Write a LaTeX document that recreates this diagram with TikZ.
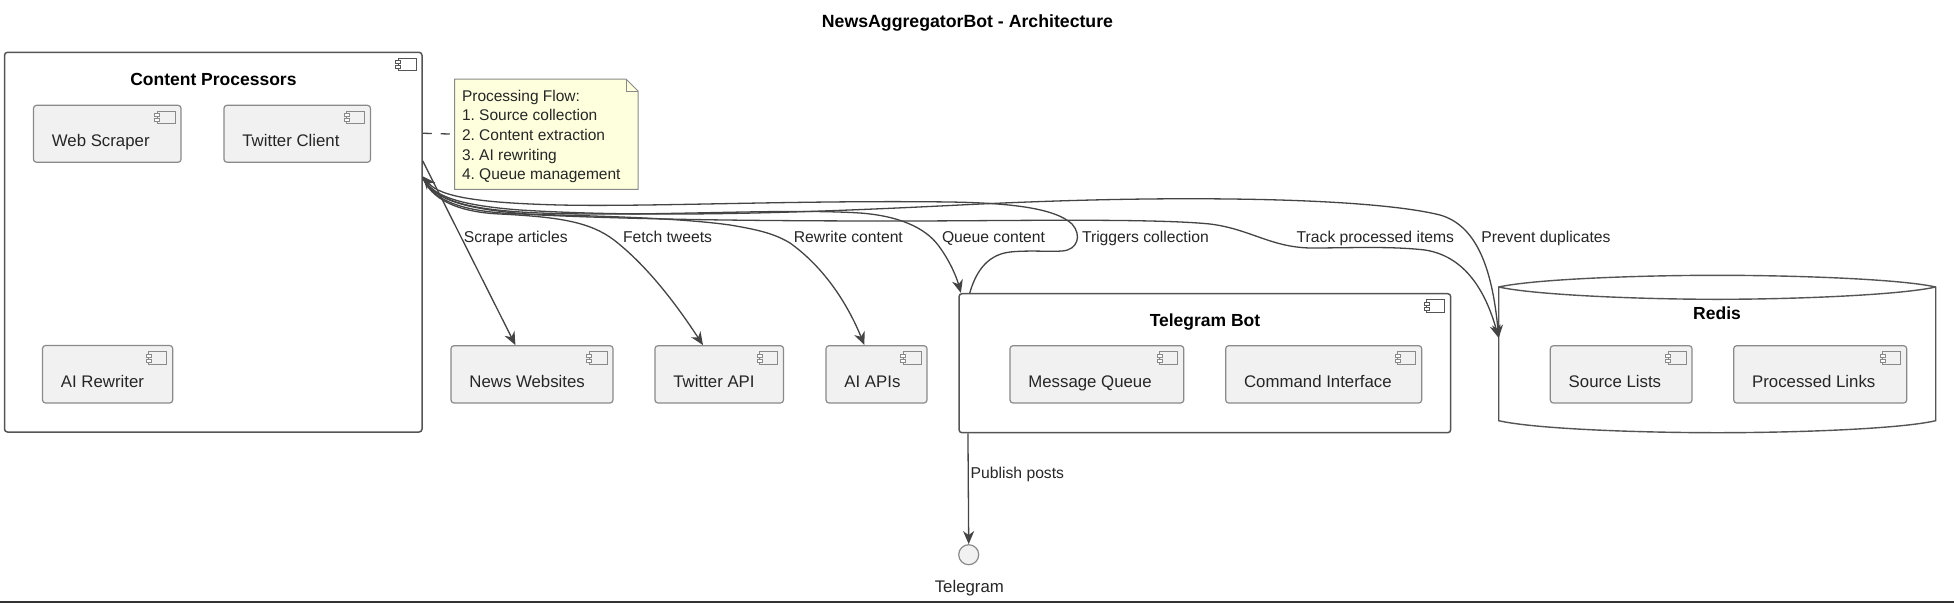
\documentclass[tikz,border=0pt]{standalone}
\usepackage{fontspec}
\setmainfont{Liberation Sans}
\usetikzlibrary{arrows.meta,calc}
\definecolor{boxline}{HTML}{555555}
\definecolor{smallline}{HTML}{8A8A8A}
\definecolor{compfill}{HTML}{F1F1F1}
\definecolor{notefill}{HTML}{FEFFDD}
\definecolor{edgeline}{HTML}{444444}
\tikzset{
  bigbox/.style={draw=boxline,line width=1.5pt,rounded corners=3pt,inner sep=0pt,fill=white},
  smallbox/.style={draw=smallline,line width=1.2pt,rounded corners=3pt,inner sep=0pt,fill=compfill},
  plain/.style={inner sep=0pt,outer sep=0pt},
  comptext/.style={plain,anchor=base west,font=\fontsize{16.8}{20}\selectfont,text=black!85},
  grouptitle/.style={plain,anchor=base,font=\fontsize{17.5}{20}\selectfont\bfseries},
  edgetext/.style={plain,anchor=base west,font=\fontsize{15.7}{19}\selectfont,text=black!85},
  edge/.style={draw=edgeline,line width=1.3pt},
  tip/.style={-{Stealth[length=13pt,width=11pt,inset=4pt]}},
  icon/.style={draw=#1,line width=0.9pt,fill=none},
}
\newcommand{\iconat}[3]{% right edge, top edge, colour
  \draw[icon=#3] (#1-24,#2+6) rectangle (#1-5.8,#2+18.5);
  \draw[icon=#3,fill=white] (#1-26.5,#2+8.5) rectangle (#1-21.5,#2+11.5);
  \draw[icon=#3,fill=white] (#1-26.5,#2+13.5) rectangle (#1-21.5,#2+16.5);
}
\newcommand{\smallcomp}[6]{% name x1 y1 x2 y2 text
  \pgfmathsetmacro{\bw}{#4-#2}\pgfmathsetmacro{\bh}{#5-#3}
  \node[smallbox,minimum width=\bw pt,minimum height=\bh pt] (#1) at ({(#2+#4)/2},{(#3+#5)/2}) {};
  \node[comptext] (#1-text) at ([xshift=19pt,yshift=-42.1pt]#1.north west) {#6};
  \iconat{#4}{#3}{smallline}
}
\newcommand{\bigcomp}[5]{% name x1 y1 x2 y2
  \pgfmathsetmacro{\bw}{#4-#2}\pgfmathsetmacro{\bh}{#5-#3}
  \node[bigbox,minimum width=\bw pt,minimum height=\bh pt] (#1) at ({(#2+#4)/2},{(#3+#5)/2}) {};
  \iconat{#4}{#3}{boxline}
}
\begin{document}
\frenchspacing
\begin{tikzpicture}[x=1pt,y=-1pt]
\useasboundingbox (0,0) rectangle (1954,603);
\fill[white] (0,0) rectangle (1954,603);
\draw[black!80,line width=1.6pt] (0,602.2) -- (1954,602.2);

\node[plain,anchor=base,font=\fontsize{17.7}{21}\selectfont\bfseries] (title) at (967.5,27.5) {NewsAggregatorBot - Architecture};

% Content Processors
\bigcomp{cp}{4.5}{52.3}{422}{432}
\node[grouptitle] (cptitle) at (213.4,85.8) {Content Processors};
\smallcomp{ws}{33.5}{105.3}{181}{162.3}{Web Scraper}
\smallcomp{tc}{224}{105.3}{370.5}{162.3}{Twitter Client}
\smallcomp{ar}{42.5}{345.5}{172.7}{403}{AI Rewriter}

% Note
\fill[notefill] (454.5,79) -- (626,79) -- (638,91) -- (638,189.3) -- (454.5,189.3) -- cycle;
\draw[smallline,line width=1pt] (454.5,79) -- (626,79) -- (638,91) -- (638,189.3) -- (454.5,189.3) -- cycle;
\draw[smallline,line width=1pt] (626,79) -- (626,91) -- (638,91);
\node[plain,minimum width=183.5pt,minimum height=110.3pt] (note) at (546.25,134.15) {};
\node[plain,anchor=north west,align=left,font=\fontsize{15.5}{19.6}\selectfont,text=black!85] (notetext) at (462,90)
  {Processing Flow:\\1. Source collection\\2. Content extraction\\3. AI rewriting\\4. Queue management};
\draw[edge,dash pattern=on 9pt off 9pt] ([yshift=-81.7pt]cp.north east) -- (note.west);

% External components
\smallcomp{nw}{451}{345.7}{613}{403}{News Websites}
\smallcomp{ta}{655}{345.7}{783.5}{403}{Twitter API}
\smallcomp{ai}{826}{345.7}{927}{403}{AI APIs}

% Telegram Bot
\bigcomp{tb}{959}{293.7}{1450.7}{432.7}
\node[grouptitle] (tbtitle) at (1205,326.5) {Telegram Bot};
\smallcomp{mq}{1010}{345.7}{1183.7}{403}{Message Queue}
\smallcomp{ci}{1225.7}{345.7}{1421.7}{403}{Command Interface}

% Redis
\node[plain,minimum width=437pt,minimum height=157.4pt] (redis) at (1717.2,354) {};
\draw[boxline,line width=1.4pt,fill=white]
  (1498.7,287) -- (1498.7,420.7) .. controls (1535,429) and (1640,432.7) .. (1717.2,432.7)
  .. controls (1795,432.7) and (1900,429) .. (1935.7,420.7) -- (1935.7,287)
  .. controls (1900,279) and (1795,275.3) .. (1717.2,275.3)
  .. controls (1640,275.3) and (1535,279) .. (1498.7,287) -- cycle;
\draw[boxline,line width=1.4pt]
  (1498.7,287) .. controls (1535,295) and (1640,299.3) .. (1717.2,299.3)
  .. controls (1795,299.3) and (1900,295) .. (1935.7,287);
\node[grouptitle] (rtitle) at (1717,319.3) {Redis};
\smallcomp{sl}{1550.3}{345.7}{1692}{403}{Source Lists}
\smallcomp{pl}{1733.7}{345.7}{1906.7}{403}{Processed Links}

% Telegram interface
\node[circle,draw=smallline,fill=compfill,line width=1.2pt,minimum size=20pt,inner sep=0pt] (tg) at (968.7,554.7) {};
\node[plain,anchor=base,font=\fontsize{16.8}{20}\selectfont,text=black!85] (tglabel) at (969.3,592) {Telegram};

% Connectors
\draw[edge,tip] ([yshift=-109.4pt]cp.north east) -- ([xshift=65pt]nw.north west);
\draw[edge,tip] ([yshift=-126pt]cp.north east)
  .. controls (431,198) and (455,212) .. (500,214)
  .. controls (560,217) and (590,222) .. (614,240)
  .. controls (650,268) and (680,310) .. ([xshift=48.6pt]ta.north west);
\draw[edge,tip] ([yshift=-126pt]cp.north east)
  .. controls (433,200) and (460,212) .. (520,214)
  .. controls (600,216) and (680,218) .. (730,225)
  .. controls (760,230) and (775,234) .. (790,243)
  .. controls (825,268) and (848,305) .. ([xshift=39pt]ai.north west);
\draw[edge,tip] ([yshift=-126pt]cp.north east)
  .. controls (435,200) and (465,210) .. (540,213)
  .. controls (650,217) and (780,208) .. (860,213)
  .. controls (900,216) and (925,228) .. (938,245)
  .. controls (948,258) and (956,275) .. ([xshift=2.6pt]tb.north west);
\draw[edge,tip] ([xshift=11.5pt]tb.north west)
  .. controls (975,275) and (985,255) .. (1010,252)
  .. controls (1030,250) and (1050,252) .. (1062,251)
  .. controls (1078,250) and (1082,235) .. (1072,224)
  .. controls (1055,208) and (1010,203) .. (950,202)
  .. controls (800,200) and (650,207) .. (560,205)
  .. controls (480,203) and (440,197) .. ([yshift=-124.7pt]cp.north east);
\draw[edge,tip] ([yshift=-126pt]cp.north east)
  .. controls (435,202) and (470,210) .. (540,215)
  .. controls (650,220) and (780,221) .. (900,221)
  .. controls (1000,221) and (1150,218) .. (1210,224)
  .. controls (1250,229) and (1270,247) .. (1310,248)
  .. controls (1350,248) and (1390,246) .. (1425,250)
  .. controls (1470,257) and (1488,300) .. ([yshift=-62.7pt]redis.north west);
\draw[edge,tip] ([yshift=-126pt]cp.north east)
  .. controls (432,195) and (455,205) .. (520,210)
  .. controls (650,218) and (800,213) .. (960,205)
  .. controls (1060,200) and (1150,198) .. (1230,199)
  .. controls (1320,200) and (1400,205) .. (1440,215)
  .. controls (1475,225) and (1492,265) .. ([yshift=-62.7pt]redis.north west);
\draw[edge,tip] ([xshift=9.7pt]tb.south west) -- (tg.north);

% Connector labels
\node[edgetext] (l1) at (463.8,242.7) {Scrape articles};
\node[edgetext] (l2) at (623,242.7) {Fetch tweets};
\node[edgetext] (l3) at (793.8,242.7) {Rewrite content};
\node[edgetext] (l4) at (942,242.7) {Queue content};
\node[edgetext] (l5) at (1082,242.7) {Triggers collection};
\node[edgetext] (l6) at (1296.7,242.7) {Track processed items};
\node[edgetext] (l7) at (1481.3,242.7) {Prevent duplicates};
\node[edgetext] (l8) at (970.7,478.5) {Publish posts};
\end{tikzpicture}
\end{document}
